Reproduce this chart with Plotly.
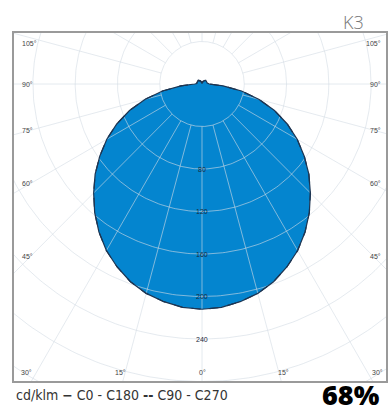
import numpy as np
import plotly.graph_objects as go

# ---------------- data (cd/klm) ----------------
gamma = [0, 5, 10, 15, 20, 25, 30, 35, 40, 45, 50, 55, 60, 65, 70, 75, 80, 85, 90,
         95, 100, 105, 110, 115, 120, 125, 130, 135, 140, 145, 150, 155, 160, 165, 170, 175, 180]
i_c0_c180 = [212, 211, 208, 204, 198, 190, 181, 170, 158, 145, 132, 118, 104, 89, 73, 56, 38, 20, 7,
             5, 5, 5, 5, 5, 5, 5, 5, 5, 4, 4, 3, 3, 2, 2, 1, 1, 1]
i_c90_c270 = [212, 211, 208, 204, 198, 190, 181, 170, 158, 145, 132, 118, 104, 89, 73, 56, 38, 20, 7,
              5, 5, 5, 5, 5, 5, 5, 5, 5, 4, 4, 3, 3, 2, 2, 1, 1, 1]
radial_ticks = [40, 80, 120, 160, 200, 240, 280, 320]
radial_labels = [80, 120, 160, 200, 240]
side_angles = [45, 60, 75, 90, 105]
bottom_angles = [0, 15, 30]
title_text = "K3"
unit_text = "cd/klm"
series_names = ["C0 - C180", "C90 - C270"]
lor_text = "68%"

BLUE = "rgb(4,133,207)"
EDGE = "#1d3552"
GRID = "rgba(212,220,228,0.6)"


def polar_path(values):
    g = np.radians(np.array(gamma, dtype=float))
    v = np.array(values, dtype=float)
    xl = -(v * np.sin(g))[::-1]
    yl = -(v * np.cos(g))[::-1]
    xr = (v * np.sin(g))[1:]
    yr = -(v * np.cos(g))[1:]
    return np.concatenate([xl, xr]), np.concatenate([yl, yr])


fig = go.Figure()

x1, y1 = polar_path(i_c0_c180)
x2, y2 = polar_path(i_c90_c270)

fig.add_trace(go.Scatter(x=x1, y=y1, mode="lines", fill="toself", fillcolor=BLUE,
                         line=dict(width=0), hoverinfo="skip", showlegend=False))

t = np.linspace(0, 2 * np.pi, 361)
for r in radial_ticks:
    fig.add_trace(go.Scatter(x=r * np.cos(t), y=r * np.sin(t), mode="lines",
                             line=dict(color=GRID, width=1), hoverinfo="skip", showlegend=False))
for a in range(0, 360, 15):
    ar = np.radians(a)
    rr = np.array([radial_ticks[0], 450])
    fig.add_trace(go.Scatter(x=rr * np.sin(ar), y=-rr * np.cos(ar), mode="lines",
                             line=dict(color=GRID, width=1), hoverinfo="skip", showlegend=False))

fig.add_trace(go.Scatter(x=x1, y=y1, mode="lines", name=series_names[0],
                         line=dict(color=EDGE, width=1.2), showlegend=False))
fig.add_trace(go.Scatter(x=x2, y=y2, mode="lines", name=series_names[1],
                         line=dict(color=EDGE, width=1.2, dash="dash"), showlegend=False))

annotations = []
for r in radial_labels:
    annotations.append(dict(x=0, y=-r, xref="x", yref="y", text=str(r), showarrow=False,
                            font=dict(size=7, color="#1b2a3c", family="Liberation Sans"),
                            xanchor="center", yanchor="middle"))

for a in side_angles:
    yv = 162 / np.tan(np.radians(a)) if a != 90 else 0.0
    yv = max(yv, -38)
    lab = f"{a}°"
    annotations.append(dict(x=0.016, y=-yv, xref="paper", yref="y", text=lab, showarrow=False,
                            font=dict(size=7, color="#444", family="Liberation Sans"),
                            xanchor="left", yanchor="middle"))
    annotations.append(dict(x=0.992, y=-yv, xref="paper", yref="y", text=lab, showarrow=False,
                            font=dict(size=7, color="#444", family="Liberation Sans"),
                            xanchor="right", yanchor="middle"))
for a in bottom_angles:
    xv = 287 * np.tan(np.radians(a))
    lab = f"{a}°"
    for s in ([1] if a == 0 else [-1, 1]):
        annotations.append(dict(x=s * xv, y=0.025, xref="x", yref="paper", text=lab, showarrow=False,
                                font=dict(size=7, color="#444", family="Liberation Sans"),
                                xanchor="center", yanchor="middle"))

annotations.append(dict(x=0.912, y=1.033, xref="paper", yref="paper", text=title_text,
                        showarrow=False, xanchor="center", yanchor="middle",
                        font=dict(size=18, color="#777", family="Open Sans", weight=300)))
legend_txt = (f"{unit_text} <b>−</b> {series_names[0]} <b>--</b> {series_names[1]}")
annotations.append(dict(x=0.0, y=-0.040, xref="paper", yref="paper", text=legend_txt,
                        showarrow=False, xanchor="left", yanchor="middle",
                        font=dict(size=14, color="#333",
                                  family="DejaVu Sans Condensed, Liberation Sans Narrow, Roboto")))
annotations.append(dict(x=0.988, y=-0.040, xref="paper", yref="paper", text=lor_text,
                        showarrow=False, xanchor="right", yanchor="middle",
                        font=dict(size=27, color="#000", family="Open Sans", weight=800)))

fig.update_layout(
    width=390, height=412,
    margin=dict(l=14, r=2, t=33, b=31),
    paper_bgcolor="white", plot_bgcolor="white",
    annotations=annotations,
    xaxis=dict(range=[-177.9, 174.1], showgrid=False, zeroline=False, showticklabels=False,
               showline=True, mirror=True, linecolor="#9a9a9a", linewidth=1.5, fixedrange=True),
    yaxis=dict(range=[-279.5, 48.0], showgrid=False, zeroline=False, showticklabels=False,
               showline=True, mirror=True, linecolor="#9a9a9a", linewidth=1.5, fixedrange=True),
)

fig.write_html("out.html", config={"displayModeBar": False},
               post_script="document.body.style.margin='0';")
